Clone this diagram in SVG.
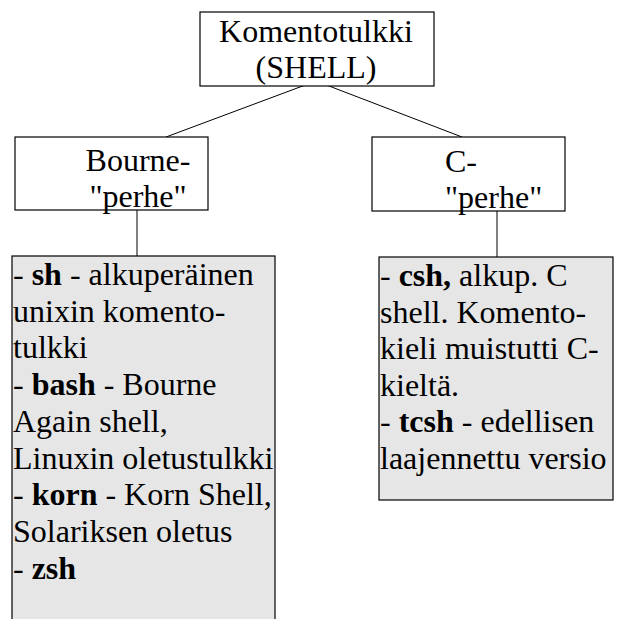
<svg xmlns="http://www.w3.org/2000/svg" width="633" height="619" viewBox="0 0 633 619">
<style>
.box{fill:#ffffff;stroke:#000;stroke-width:1.2}
.grey{fill:#e6e6e6;stroke:#000;stroke-width:1.2}
.t{font-family:"Liberation Serif","Times New Roman",serif;font-size:32px;fill:#000}
.c{text-anchor:middle}
.b{font-weight:bold}
.line{stroke:#000;stroke-width:1;fill:none}
</style>
<rect width="633" height="619" fill="#fff"/>
<g id="connectors">
<line class="line" x1="316" y1="81" x2="166" y2="137"/>
<line class="line" x1="316" y1="81" x2="462" y2="137"/>
<line class="line" x1="137" y1="210" x2="137" y2="256"/>
<line class="line" x1="497" y1="211" x2="497" y2="257"/>
</g>
<g id="shell">
<rect class="box" x="200" y="12" width="234" height="74"/>
<text class="t c" x="316" y="42">Komentotulkki</text>
<text class="t c" x="316" y="78">(SHELL)</text>
</g>
<g id="bourne">
<rect class="box" x="15" y="137" width="193" height="73"/>
<text class="t c" x="138" y="171">Bourne-</text>
<text class="t c" x="138" y="207">"perhe"</text>
</g>
<g id="cfamily">
<rect class="box" x="372" y="137" width="193" height="74"/>
<text class="t" x="445" y="172">C-</text>
<text class="t" x="445" y="208">"perhe"</text>
</g>
<g id="bourne-list">
<rect class="grey" x="12" y="256" width="263" height="370"/>
<text class="t" x="13" y="285">- <tspan class="b">sh</tspan> - alkuperäinen</text>
<text class="t" x="13" y="321.7">unixin komento-</text>
<text class="t" x="13" y="358.4">tulkki</text>
<text class="t" x="13" y="395.1">- <tspan class="b">bash</tspan> - Bourne</text>
<text class="t" x="13" y="431.8">Again shell,</text>
<text class="t" x="13" y="468.5">Linuxin oletustulkki</text>
<text class="t" x="13" y="505.2">- <tspan class="b">korn</tspan> - Korn Shell,</text>
<text class="t" x="13" y="541.9">Solariksen oletus</text>
<text class="t" x="13" y="578.6">- <tspan class="b">zsh</tspan></text>
</g>
<g id="c-list">
<rect class="grey" x="379" y="257" width="234" height="243"/>
<text class="t" x="380" y="286">- <tspan class="b">csh,</tspan> alkup. C</text>
<text class="t" x="380" y="322.5">shell. Komento-</text>
<text class="t" x="380" y="359">kieli muistutti C-</text>
<text class="t" x="380" y="395.5">kieltä.</text>
<text class="t" x="380" y="432">- <tspan class="b">tcsh</tspan> - edellisen</text>
<text class="t" x="380" y="468.5">laajennettu versio</text>
</g>
</svg>
